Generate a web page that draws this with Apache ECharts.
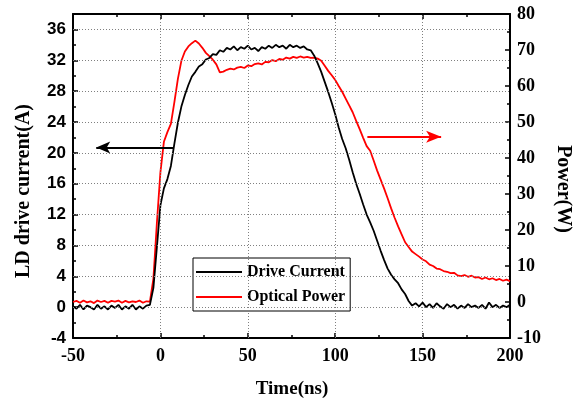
<!DOCTYPE html>
<html>
<head>
<meta charset="utf-8">
<script src="https://cdn.jsdelivr.net/npm/echarts@6/dist/echarts.min.js"></script>
<style>
html,body{margin:0;padding:0;background:#fff;}
#chart{width:580px;height:402px;}
</style>
</head>
<body>
<div id="chart"></div>
<script>
// ---- data ----
const timeNs = [-50,-48,-46,-44,-42,-40,-38,-36,-34,-32,-30,-28,-26,-24,-22,-20,-18,-16,-14,-12,-10,-8,-6,
  -4,-2,0,2,4,6,8,10,12,14,16,18,20,22,24,26,28,30,32,34,36,38,40,42,44,46,48,50,52,54,56,58,60,
  62,64,66,68,70,72,74,76,78,80,82,84,86,88,90,92,94,96,98,100,102,104,106,108,110,112,114,116,118,120,
  122,124,126,128,130,132,134,136,138,140,142,144,146,148,150,152,154,156,158,160,162,164,166,168,170,
  172,174,176,178,180,182,184,186,188,190,192,194,196,198,200];

const driveCurrent = [0.1,-0.2,0.3,-0.3,0.2,0.0,-0.3,0.3,-0.2,0.1,-0.3,0.2,-0.1,0.3,-0.3,0.1,-0.2,0.3,-0.3,0.1,-0.2,0.2,0.3,
  2.5,7.8,13.2,15.4,16.6,18.3,21.2,23.9,26.0,27.5,28.8,29.9,30.5,31.2,31.5,32.1,32.3,32.8,32.7,33.3,33.1,33.6,33.4,33.8,33.3,33.7,33.5,33.9,33.4,33.6,33.2,33.7,33.5,
  33.9,33.6,34.0,33.7,33.9,33.5,34.0,33.7,33.9,33.6,33.8,33.4,33.3,32.6,31.6,30.5,29.2,27.9,26.5,25.0,23.3,21.8,20.6,19.1,17.5,16.0,14.7,13.3,12.0,11.0,
  9.9,8.6,7.3,6.1,5.0,4.2,3.6,3.1,2.3,1.7,0.8,0.2,0.5,0.1,0.6,0.0,0.4,-0.1,0.5,0.1,-0.2,0.4,0.0,0.3,-0.2,
  0.2,-0.1,0.4,0.0,0.2,-0.1,0.3,-0.2,0.6,0.0,0.3,-0.1,0.2,0.0,0.3];

const opticalPower = [0.0,0.3,-0.2,0.4,-0.1,0.2,-0.3,0.4,0.0,0.3,-0.2,0.3,0.1,0.4,-0.2,0.3,-0.1,0.2,0.0,0.4,-0.2,0.2,0.1,
  6.5,22.0,36.0,44.5,47.2,49.5,55.5,62.0,67.0,69.6,71.0,71.9,72.6,71.8,70.6,69.2,68.3,67.3,66.0,63.8,64.0,64.5,64.8,64.6,65.1,65.3,65.0,65.7,65.5,66.1,66.3,66.0,66.7,
  66.6,67.2,66.9,67.5,67.3,67.9,67.6,68.1,67.8,68.2,67.9,68.1,67.8,67.9,67.6,67.0,65.6,64.2,63.0,61.7,60.0,58.4,56.5,54.6,52.7,50.3,48.0,45.6,43.3,42.0,
  39.3,36.5,34.0,31.5,28.8,26.0,23.4,21.0,18.8,16.6,15.3,14.0,13.3,12.6,11.8,11.3,10.4,10.0,9.3,9.1,8.6,8.4,8.0,8.1,7.4,
  7.2,7.5,7.0,7.3,6.8,6.9,6.4,6.8,6.3,6.6,6.1,6.4,5.9,6.2,5.8];

const seriesNames = ['Drive Current', 'Optical Power'];
const currentArrow = [[7.6, 20.7], [-36.7, 20.7]];
const powerArrow = [[118.4, 45.9], [160.6, 45.9]];

// tick values where the dotted grid lines sit
const xGridTicks = [0, 50, 100, 150];
const yGridTicks = [0, 4, 8, 12, 16, 20, 24, 28, 32, 36];

const xTicks = {min: -50, max: 200, interval: 50};
const leftTicks = {min: -4, max: 38, interval: 4};
const rightTicks = {min: -10, max: 80, interval: 10};

// ---- chart ----
const serif = 'Liberation Serif';
const sans = 'Liberation Sans';
const chart = echarts.init(document.getElementById('chart'));

const axisLine = () => ({show: true, onZero: false, lineStyle: {color: '#000', width: 2}});
const tick = () => ({show: true, inside: true, length: 5, lineStyle: {color: '#000', width: 1.5}});
const minor = () => ({show: true, splitNumber: 2, length: 3, lineStyle: {color: '#000', width: 1.5}});
const hidden = () => ({show: false});
const legendIcon = 'path://M0,0 L46,0 L46,2 L0,2 Z';
const gridStyle = {color: '#808080', width: 1, type: [1, 2]};

const pairs = (ys) => timeNs.map((t, i) => [t, ys[i]]);

chart.setOption({
  animation: false,
  backgroundColor: '#fff',
  grid: {left: 73, right: 70, top: 14, bottom: 64},
  legend: {
    data: seriesNames.map(n => ({name: n, icon: legendIcon})),
    orient: 'vertical',
    left: 193, top: 258,
    backgroundColor: '#fff',
    borderColor: '#000', borderWidth: 1, borderRadius: 0,
    padding: [6, 5, 6, 3],
    itemWidth: 46, itemHeight: 16, itemGap: 9,
    textStyle: {fontFamily: serif, fontWeight: 'bold', fontSize: 16, color: '#000'}
  },
  xAxis: [{
    type: 'value', position: 'bottom',
    min: xTicks.min, max: xTicks.max, interval: xTicks.interval,
    axisLine: axisLine(), axisTick: tick(), minorTick: minor(),
    splitLine: hidden(),
    axisLabel: {fontFamily: serif, fontWeight: 'bold', fontSize: 18, color: '#000', margin: 9}
  }, {
    type: 'value', position: 'top',
    min: xTicks.min, max: xTicks.max, interval: xTicks.interval,
    axisLine: axisLine(), axisTick: tick(), minorTick: minor(),
    splitLine: hidden(), axisLabel: hidden()
  }],
  yAxis: [{
    type: 'value', position: 'left',
    min: leftTicks.min, max: leftTicks.max, interval: leftTicks.interval,
    axisLine: axisLine(), axisTick: tick(), minorTick: minor(),
    splitLine: hidden(),
    axisLabel: {fontFamily: sans, fontWeight: 'bold', fontSize: 17, color: '#000', margin: 7, showMaxLabel: false}
  }, {
    type: 'value', position: 'right',
    min: rightTicks.min, max: rightTicks.max, interval: rightTicks.interval,
    axisLine: axisLine(), axisTick: tick(), minorTick: minor(),
    splitLine: hidden(),
    axisLabel: {fontFamily: serif, fontWeight: 'bold', fontSize: 18, color: '#000', margin: 7}
  }],
  graphic: [
    {type: 'text', x: 24, y: 191, rotation: Math.PI / 2,
     style: {text: 'LD drive current(A)', fontFamily: serif, fontWeight: 'bold', fontSize: 20, fill: '#000', textAlign: 'center', textVerticalAlign: 'middle'}},
    {type: 'text', x: 563, y: 189, rotation: -Math.PI / 2,
     style: {text: 'Power(W)', fontFamily: serif, fontWeight: 'bold', fontSize: 20, fill: '#000', textAlign: 'center', textVerticalAlign: 'middle'}},
    {type: 'text', x: 292, y: 389,
     style: {text: 'Time(ns)', fontFamily: serif, fontWeight: 'bold', fontSize: 19, fill: '#000', textAlign: 'center', textVerticalAlign: 'middle'}}
  ],
  series: [{
    // helper series carrying the dotted grid lines (invisible line itself)
    name: '_grid', type: 'line', xAxisIndex: 0, yAxisIndex: 0,
    data: pairs(driveCurrent), symbol: 'none', showSymbol: false,
    lineStyle: {opacity: 0}, silent: true, z: 1,
    markLine: {
      silent: true, symbol: ['none', 'none'],
      label: {show: false},
      lineStyle: gridStyle,
      data: xGridTicks.map(v => ({xAxis: v})).concat(yGridTicks.map(v => ({yAxis: v})))
    }
  }, {
    name: seriesNames[0], type: 'line', xAxisIndex: 0, yAxisIndex: 0,
    data: pairs(driveCurrent), symbol: 'none', showSymbol: false,
    color: '#000', lineStyle: {color: '#000', width: 1.8},
    z: 3,
    markLine: {
      silent: true, symbol: ['none', 'arrow'], symbolSize: [9, 14],
      label: {show: false},
      lineStyle: {color: '#000', width: 2, type: 'solid'},
      data: [[{coord: currentArrow[0]}, {coord: currentArrow[1]}]]
    }
  }, {
    name: seriesNames[1], type: 'line', xAxisIndex: 0, yAxisIndex: 1,
    data: pairs(opticalPower), symbol: 'none', showSymbol: false,
    color: '#f00', lineStyle: {color: '#f00', width: 1.8},
    z: 2,
    markLine: {
      silent: true, symbol: ['none', 'arrow'], symbolSize: [9, 15],
      label: {show: false},
      lineStyle: {color: '#f00', width: 2, type: 'solid'},
      data: [[{coord: powerArrow[0]}, {coord: powerArrow[1]}]]
    }
  }]
});
</script>
</body>
</html>
